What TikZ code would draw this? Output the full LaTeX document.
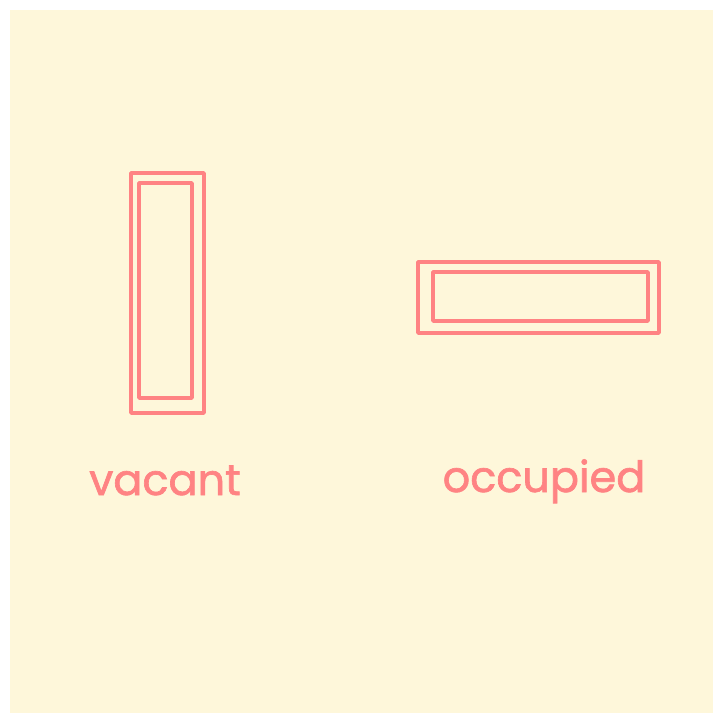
\documentclass[tikz,border=0pt]{standalone}
\usepackage{fontspec}
\newfontfamily\hand{Poppins}[FakeBold=1.5]
\definecolor{bg}{HTML}{FEF7DA}
\definecolor{ink}{HTML}{FF8383}
\begin{document}
\begin{tikzpicture}[x=1pt,y=-1pt,
  box/.style={draw=ink,line width=3.8pt,line join=round,line cap=round},
  lbl/.style={text=ink,font=\hand\fontsize{43}{50}\selectfont,inner sep=0pt,anchor=base}]
\useasboundingbox (0,0) rectangle (723,723);
\fill[bg] (10,10) rectangle (713,713);
\draw[box] (131,173) rectangle (204,413);
\draw[box] (139,183) rectangle (192,398);
\draw[box] (418,262) rectangle (659,333);
\draw[box] (433,272) rectangle (648,321);
\node[lbl] (vacant) at (165,495) {vacant};
\node[lbl] (occupied) at (544,492) {occupied};
\end{tikzpicture}
\end{document}
